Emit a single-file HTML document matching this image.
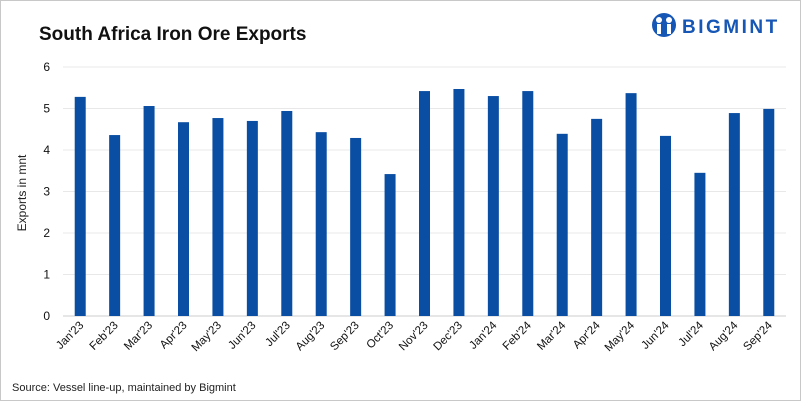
<!DOCTYPE html>
<html><head><meta charset="utf-8"><style>
body{margin:0;background:#fff;}
#wrap{width:799px;height:399px;border:1px solid #c8c8c8;position:relative;overflow:hidden;font-family:"Liberation Sans",sans-serif;}
</style></head><body>
<div id="wrap">
<svg width="799" height="399" id="svg">
<text x="38" y="39" font-size="19" font-weight="bold" fill="#111">South Africa Iron Ore Exports</text>
<g>
<circle cx="663" cy="24" r="12" fill="#1656b5"/>
<circle cx="658" cy="19" r="3" fill="#fff"/><circle cx="668" cy="19" r="3" fill="#fff"/>
<rect x="656" y="23" width="4" height="10" fill="#fff"/><rect x="666" y="23" width="4" height="10" fill="#fff"/>
<text x="681" y="32" font-size="19" font-weight="bold" fill="#1656b5" letter-spacing="2.5">BIGMINT</text>
</g>
<text transform="translate(25,192) rotate(-90)" text-anchor="middle" font-size="12" fill="#222">Exports in mnt</text>
<g id="grid"></g><g id="bars"></g><g id="xl"></g>
<text x="11" y="390" font-size="11" fill="#222">Source: Vessel line-up, maintained by Bigmint</text>
</svg></div>
<script>
const categories=["Jan'23","Feb'23","Mar'23","Apr'23","May'23","Jun'23","Jul'23","Aug'23","Sep'23","Oct'23","Nov'23","Dec'23","Jan'24","Feb'24","Mar'24","Apr'24","May'24","Jun'24","Jul'24","Aug'24","Sep'24"];
const values=[5.28,4.36,5.06,4.67,4.77,4.70,4.94,4.43,4.29,3.42,5.42,5.47,5.30,5.42,4.39,4.75,5.37,4.34,3.45,4.89,4.99];
const yTicks=[0,1,2,3,4,5,6];
const NS="http://www.w3.org/2000/svg";
const x0=62,x1=785,y0=315,yTop=66,ymax=6;
const y=v=>y0-(v/ymax)*(y0-yTop);
const step=(x1-x0)/categories.length;
const xc=i=>x0+step*(i+0.5);
function mk(t,a,p){const e=document.createElementNS(NS,t);for(const k in a)e.setAttribute(k,a[k]);p.appendChild(e);return e;}
const g=document.getElementById('grid');
yTicks.forEach(t=>{
 const l=mk('line',{x1:x0,x2:x1,y1:y(t),y2:y(t),stroke:t===0?'#ccc':'#e8e8e8','stroke-width':1},g);
 
 
 const tx=mk('text',{x:49,y:y(t)+4,'text-anchor':'end','font-size':12,fill:'#111'},g);tx.textContent=t;
 
 
});
const b=document.getElementById('bars'),xl=document.getElementById('xl');
values.forEach((v,i)=>{
 const r=mk('rect',{x:xc(i)-5.5,y:y(v),width:11,height:y0-y(v),fill:'#0a4ea3'},b);
 
 
 const t=mk('text',{'text-anchor':'end','font-size':11.5,fill:'#111',transform:`translate(${xc(i)+4},${y0+10}) rotate(-45)`},xl);
 t.textContent=categories[i];
 
 
});
</script>
</body></html>
